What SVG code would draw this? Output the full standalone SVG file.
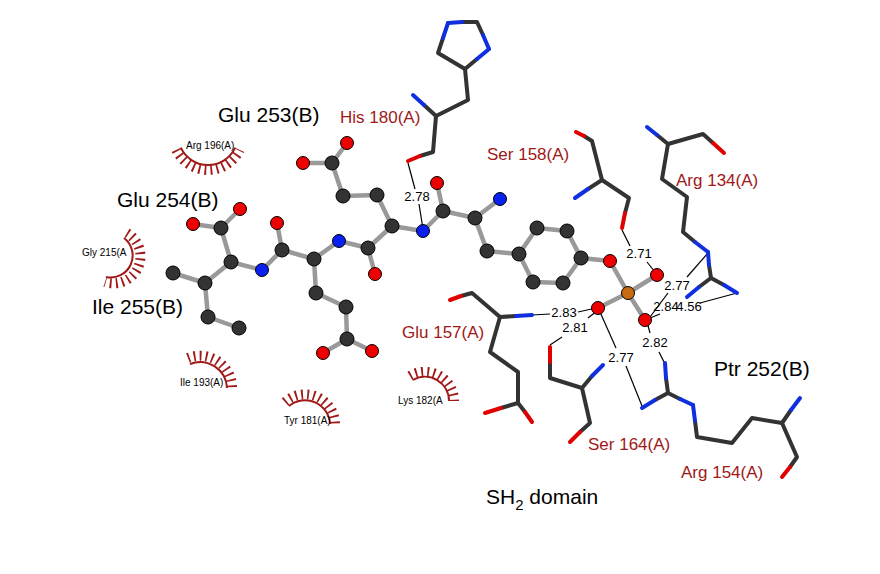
<svg xmlns="http://www.w3.org/2000/svg" width="880" height="574" viewBox="0 0 880 574">
<style>
text{font-family:"Liberation Sans",Arial,sans-serif}
.big{font-size:21px;fill:#000}
.res{font-size:17px;fill:#a01818}
.d{font-size:13px;fill:#000;text-anchor:middle}
.sm{font-size:10px;fill:#000}
.lig line{stroke:#999;stroke-width:4.5;stroke-linecap:round}
.st{fill:none;stroke:#333;stroke-width:4;stroke-linecap:round;stroke-linejoin:round}
.n{stroke:#1030e0;stroke-width:4;stroke-linecap:round}
.o{stroke:#e00000;stroke-width:4;stroke-linecap:round}
.hb line{stroke:#000;stroke-width:1.2}
.C{fill:#333;stroke:#000;stroke-width:1}
.N{fill:#0a20ee;stroke:#000;stroke-width:1}
.O{fill:#ee0000;stroke:#000;stroke-width:1}
.P{fill:#c86a10;stroke:#000;stroke-width:1}
.arc{fill:none;stroke:#a01818;stroke-width:2}
.spk{fill:none;stroke:#a01818;stroke-width:10;stroke-dasharray:1.8 4.2}
</style>
<rect width="880" height="574" fill="#fff"/>

<g id="hydrophobic">
<g id="arg196"><path class="arc" d="M180.8,147.7 A30,30 0 0 0 235.2,147.7"/><path class="spk" d="M176.3,149.8 A35,35 0 0 0 239.7,149.8"/></g>
<g id="gly215"><path class="arc" d="M124,238 A22,22 0 0 1 106,277"/><path class="spk" d="M127,233 A27,27 0 0 1 105,282"/></g>
<g id="ile193"><path class="arc" d="M190,364 A27,27 0 0 1 227,388"/><path class="spk" d="M188,358 A32,32 0 0 1 232,388"/></g>
<g id="tyr181"><path class="arc" d="M289,406 A25,25 0 0 1 330,424"/><path class="spk" d="M285,402 A30,30 0 0 1 335,424"/></g>
<g id="lys182"><path class="arc" d="M413,380 A24,24 0 0 1 449,401"/><path class="spk" d="M410,376 A29,29 0 0 1 454,401"/></g>
</g>

<g id="connectors">
<g class="lig">
<line x1="193" y1="224" x2="221" y2="228"/><line x1="240" y1="209" x2="221" y2="228"/><line x1="221" y1="228" x2="231" y2="262"/>
<line x1="231" y1="262" x2="262" y2="270"/><line x1="231" y1="262" x2="205" y2="283"/><line x1="205" y1="283" x2="173" y2="273"/>
<line x1="205" y1="283" x2="208" y2="317"/><line x1="208" y1="317" x2="239" y2="328"/>
<line x1="262" y1="270" x2="282" y2="250"/><line x1="282" y1="250" x2="277" y2="223"/><line x1="282" y1="250" x2="314" y2="259"/>
<line x1="314" y1="259" x2="339" y2="241"/><line x1="314" y1="259" x2="316" y2="293"/><line x1="316" y1="293" x2="346" y2="307"/>
<line x1="346" y1="307" x2="347" y2="339"/><line x1="347" y1="339" x2="323" y2="353"/><line x1="347" y1="339" x2="372" y2="351"/>
<line x1="339" y1="241" x2="368" y2="248"/><line x1="368" y1="248" x2="375" y2="274"/><line x1="368" y1="248" x2="392" y2="226"/>
<line x1="392" y1="226" x2="377" y2="195"/><line x1="377" y1="195" x2="343" y2="196"/><line x1="343" y1="196" x2="332" y2="163"/>
<line x1="332" y1="163" x2="303" y2="163"/><line x1="332" y1="163" x2="347" y2="143"/>
<line x1="392" y1="226" x2="423" y2="231"/><line x1="423" y1="231" x2="443" y2="211"/><line x1="443" y1="211" x2="437" y2="183"/>
<line x1="443" y1="211" x2="475" y2="218"/><line x1="475" y1="218" x2="500" y2="199"/><line x1="475" y1="218" x2="487" y2="251"/>
<line x1="487" y1="251" x2="519" y2="254"/><line x1="519" y1="254" x2="537" y2="228"/><line x1="537" y1="228" x2="567" y2="231"/>
<line x1="567" y1="231" x2="581" y2="258"/><line x1="581" y1="258" x2="563" y2="283"/><line x1="563" y1="283" x2="533" y2="282"/>
<line x1="533" y1="282" x2="519" y2="254"/><line x1="581" y1="258" x2="610" y2="261"/><line x1="610" y1="261" x2="628" y2="293"/>
<line x1="628" y1="293" x2="657" y2="275"/><line x1="628" y1="293" x2="598" y2="308"/><line x1="628" y1="293" x2="645" y2="320"/>
</g>
<g class="hb">
<line x1="408" y1="163" x2="415" y2="189"/><line x1="419" y1="204" x2="423" y2="229"/>
<line x1="622" y1="230" x2="630" y2="246"/><line x1="647" y1="262" x2="655" y2="272"/>
<line x1="708" y1="253" x2="687" y2="277"/><line x1="668" y1="293" x2="650" y2="317"/>
<line x1="737" y1="293" x2="700" y2="303"/><line x1="660" y1="314" x2="650" y2="318"/>
<line x1="532" y1="315" x2="550" y2="314"/><line x1="578" y1="312" x2="596" y2="308"/>
<line x1="550" y1="345" x2="562" y2="337"/><line x1="588" y1="318" x2="597" y2="311"/>
<line x1="600" y1="312" x2="616" y2="348"/><line x1="626" y1="366" x2="642" y2="406"/>
<line x1="647" y1="322" x2="650" y2="333"/><line x1="659" y1="352" x2="664" y2="362"/>
</g>
</g>

<g id="his180">
<polyline class="st" points="424,105 436,116 468,100 465,69 438,53 443,38"/>
<polyline class="st" points="462,22 477,22 483,35"/><line class="st" x1="477" y1="59" x2="465" y2="69"/>
<line class="n" x1="413" y1="95" x2="424" y2="105"/><line class="n" x1="443" y1="38" x2="448" y2="23"/><line class="n" x1="448" y1="23" x2="462" y2="22"/>
<line class="n" x1="483" y1="35" x2="489" y2="49"/><line class="n" x1="489" y1="49" x2="477" y2="59"/>
<polyline class="st" points="436,116 433,152 420,156"/><line class="o" x1="420" y1="156" x2="408" y2="161"/>
</g>
<g id="ser158">
<polyline class="st" points="584,136 592,141 602,180 588,189"/><polyline class="st" points="602,180 629,198 625,213"/>
<line class="o" x1="576" y1="132" x2="584" y2="136"/><line class="n" x1="588" y1="189" x2="575" y2="198"/><line class="o" x1="625" y1="213" x2="622" y2="228"/>
</g>
<g id="arg134">
<polyline class="st" points="657,135 668,144 703,134 713,143"/><polyline class="st" points="668,144 662,179 687,197 683,232 695,242"/>
<polyline class="st" points="709,265 711,278 699,287"/><line class="st" x1="711" y1="278" x2="724" y2="285"/>
<line class="n" x1="647" y1="127" x2="657" y2="135"/><line class="o" x1="713" y1="143" x2="724" y2="153"/>
<line class="n" x1="695" y1="242" x2="708" y2="252"/><line class="n" x1="708" y1="252" x2="709" y2="265"/>
<line class="n" x1="699" y1="287" x2="687" y2="297"/><line class="n" x1="724" y1="285" x2="737" y2="293"/>
</g>
<g id="glu157">
<polyline class="st" points="461,296 472,293 500,317 516,316"/><polyline class="st" points="500,317 490,352 518,372 518,403 501,408"/>
<line class="st" x1="518" y1="403" x2="525" y2="412"/>
<line class="o" x1="450" y1="300" x2="461" y2="296"/><line class="n" x1="516" y1="316" x2="532" y2="315"/>
<line class="o" x1="501" y1="408" x2="485" y2="413"/><line class="o" x1="525" y1="412" x2="532" y2="422"/>
</g>
<g id="ser164">
<polyline class="st" points="550,362 550,378 582,388 592,376"/><polyline class="st" points="582,388 590,423 580,432"/>
<line class="o" x1="550" y1="347" x2="550" y2="362"/><line class="n" x1="592" y1="376" x2="603" y2="365"/><line class="o" x1="580" y1="432" x2="570" y2="442"/>
</g>
<g id="arg154">
<polyline class="st" points="655,400 668,393 666,378"/><line class="st" x1="668" y1="393" x2="680" y2="399"/>
<polyline class="st" points="695,421 697,437 732,443 752,418 782,423 791,410"/><polyline class="st" points="782,423 797,457 790,467"/>
<line class="n" x1="642" y1="408" x2="655" y2="400"/><line class="n" x1="666" y1="378" x2="665" y2="363"/>
<line class="n" x1="680" y1="399" x2="693" y2="405"/><line class="n" x1="693" y1="405" x2="695" y2="421"/>
<line class="n" x1="791" y1="410" x2="800" y2="398"/><line class="o" x1="790" y1="467" x2="782" y2="477"/>
</g>

<g id="ptr252-ligand">
<g class="C">
<circle cx="221" cy="228" r="7"/><circle cx="231" cy="262" r="7"/><circle cx="205" cy="283" r="7"/><circle cx="173" cy="273" r="7"/>
<circle cx="208" cy="317" r="7"/><circle cx="239" cy="328" r="7"/><circle cx="282" cy="250" r="7"/><circle cx="314" cy="259" r="7"/>
<circle cx="316" cy="293" r="7"/><circle cx="346" cy="307" r="7"/><circle cx="347" cy="339" r="7"/><circle cx="368" cy="248" r="7"/>
<circle cx="392" cy="226" r="7"/><circle cx="377" cy="195" r="7"/><circle cx="343" cy="196" r="7"/><circle cx="332" cy="163" r="7"/>
<circle cx="443" cy="211" r="7"/><circle cx="475" cy="218" r="7"/><circle cx="487" cy="251" r="7"/><circle cx="519" cy="254" r="7"/>
<circle cx="537" cy="228" r="7"/><circle cx="567" cy="231" r="7"/><circle cx="581" cy="258" r="7"/><circle cx="563" cy="283" r="7"/><circle cx="533" cy="282" r="7"/>
</g>
<g class="N"><circle cx="262" cy="270" r="6.5"/><circle cx="339" cy="241" r="6.5"/><circle cx="423" cy="231" r="6.5"/><circle cx="500" cy="199" r="6.5"/></g>
<g class="O">
<circle cx="193" cy="224" r="6.5"/><circle cx="240" cy="209" r="6.5"/><circle cx="277" cy="223" r="6.5"/><circle cx="375" cy="274" r="6.5"/>
<circle cx="323" cy="353" r="6.5"/><circle cx="372" cy="351" r="6.5"/><circle cx="303" cy="163" r="6.5"/><circle cx="347" cy="143" r="6.5"/>
<circle cx="437" cy="183" r="6.5"/><circle cx="610" cy="261" r="6.5"/><circle cx="657" cy="275" r="6.5"/><circle cx="598" cy="308" r="6.5"/><circle cx="645" cy="320" r="6.5"/>
</g>
<circle class="P" cx="628" cy="293" r="6.5"/>
</g>

<g id="distances">
<text class="d" x="417" y="201">2.78</text>
<text class="d" x="639" y="258">2.71</text>
<text class="d" x="677" y="290">2.77</text>
<text class="d" x="666" y="311">2.84</text>
<text class="d" x="689" y="311">4.56</text>
<text class="d" x="564" y="317">2.83</text>
<text class="d" x="575" y="332">2.81</text>
<text class="d" x="621" y="362">2.77</text>
<text class="d" x="655" y="347">2.82</text>
</g>

<g id="labels">
<text class="big" x="218" y="122">Glu 253(B)</text>
<text class="big" x="117" y="207">Glu 254(B)</text>
<text class="big" x="92" y="314">Ile 255(B)</text>
<text class="big" x="714" y="376">Ptr 252(B)</text>
<text class="res" x="340" y="123">His 180(A)</text>
<text class="res" x="487" y="160">Ser 158(A)</text>
<text class="res" x="676" y="186">Arg 134(A)</text>
<text class="res" x="402" y="338">Glu 157(A)</text>
<text class="res" x="588" y="450">Ser 164(A)</text>
<text class="res" x="681" y="478">Arg 154(A)</text>
<text class="sm" x="186" y="149">Arg 196(A)</text>
<text class="sm" x="82" y="256">Gly 215(A</text>
<text class="sm" x="180" y="386">Ile 193(A)</text>
<text class="sm" x="284" y="424">Tyr 181(A)</text>
<text class="sm" x="398" y="404">Lys 182(A</text>
<text class="big" x="486" y="504">SH<tspan font-size="15" dy="6">2</tspan><tspan dy="-6"> domain</tspan></text>
</g>
</svg>
